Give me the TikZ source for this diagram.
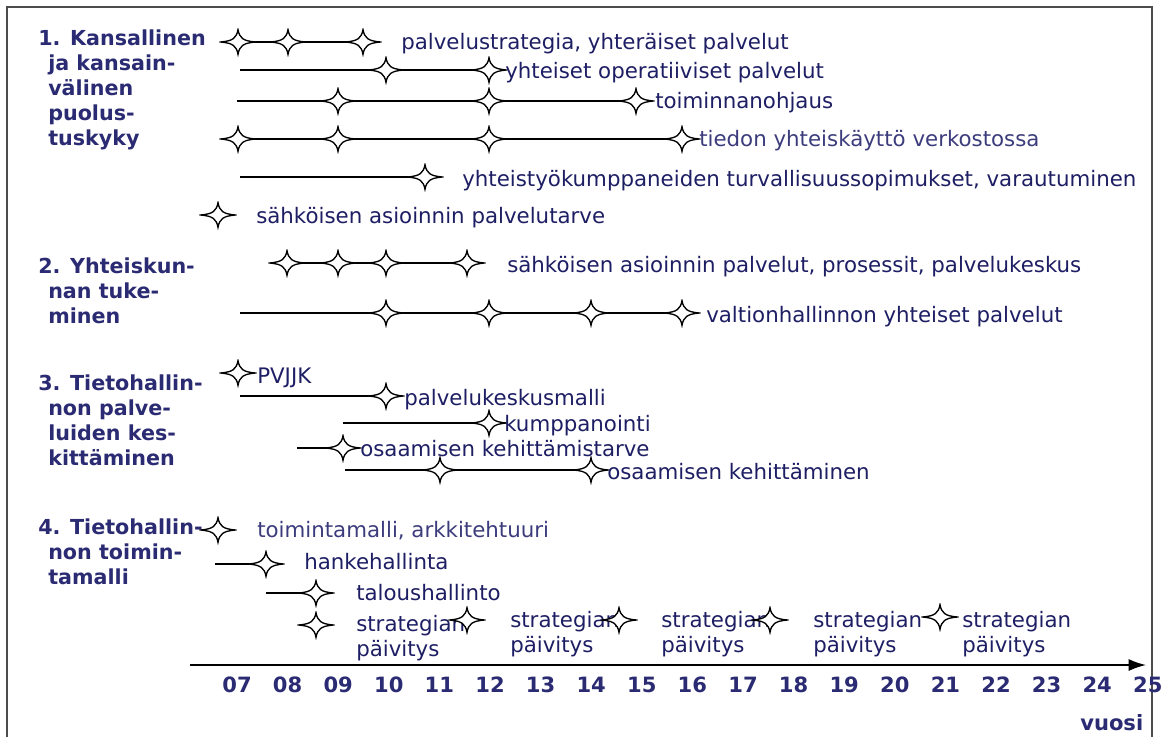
\documentclass[tikz,border=0pt]{standalone}
\usepackage{fontspec}
\setmainfont{DejaVu Sans}
\usetikzlibrary{arrows.meta,backgrounds}
\definecolor{navytext}{RGB}{30,30,100}
\definecolor{navyhead}{RGB}{43,43,115}
\definecolor{paletext}{RGB}{60,60,125}
\newcommand{\areaindent}{\hspace*{7.5pt}}
\tikzstyle{milestone}=[
        inner sep=0pt,
        minimum width=28pt,
        minimum height=21pt,
        path picture={
            \begin{scope}[shift={(path picture bounding box.center)}]
                \draw[line width=1pt,fill=white] (-13pt,0pt)
                    .. controls (-3.8pt,0.8pt) and (-1.1pt,3pt) .. (0pt,9.3pt)
                    .. controls (1.1pt,3pt) and (3.8pt,0.8pt) .. (13pt,0pt)
                    .. controls (3.8pt,-0.8pt) and (1.1pt,-3pt) .. (0pt,-9.3pt)
                    .. controls (-1.1pt,-3pt) and (-3.8pt,-0.8pt) .. cycle;
            \end{scope}
        }
]
\tikzstyle{bar}=[line width=0.8pt]
\tikzstyle{item}=[
        anchor=base west,
        inner sep=0pt,
        text=navytext,
        font=\fontsize{16pt}{19pt}\selectfont
]
\tikzstyle{itempale}=[item, text=paletext]
\tikzstyle{update}=[item, anchor=north west, align=left]
\tikzstyle{area}=[
        anchor=north west,
        inner sep=0pt,
        align=left,
        text=navyhead,
        font=\fontsize{15.5pt}{18.75pt}\selectfont\bfseries
]
\tikzstyle{yearlbl}=[
        anchor=base,
        inner sep=0pt,
        text=navyhead,
        font=\fontsize{15.8pt}{18.75pt}\selectfont\bfseries
]

\begin{document}
\begin{tikzpicture}[x=0.75pt,y=-0.75pt]
                    \useasboundingbox (0,0) rectangle (1164,736);
                    \draw[gray!60!black,line width=1.1pt] (7,745) -- (7,7) -- (1152,7) -- (1152,745);

                    \node[area] (area1) at (38,30) {1. Kansallinen\\\areaindent ja kansain-\\\areaindent välinen\\\areaindent puolus-\\\areaindent tuskyky};
                    \node[area] (area2) at (38,258) {2. Yhteiskun-\\\areaindent nan tuke-\\\areaindent minen};
                    \node[area] (area3) at (38,375) {3. Tietohallin-\\\areaindent non palve-\\\areaindent luiden kes-\\\areaindent kittäminen};
                    \node[area] (area4) at (38,519) {4. Tietohallin-\\\areaindent non toimin-\\\areaindent tamalli};

                    \foreach \x/\n in {238/a,288/b,363/c}
                        \node[milestone] (r1\n) at (\x,42) {};
                    \coordinate (r1end) at (380,42);
                    \node[item] (t1) at (401,49) {palvelustrategia, yhteräiset palvelut};

                    \foreach \x/\n in {386/a,489/b}
                        \node[milestone] (r2\n) at (\x,70) {};
                    \coordinate (r2start) at (240,70);
                    \node[item] (t2) at (505,78) {yhteiset operatiiviset palvelut};

                    \foreach \x/\n in {338/a,489/b,636/c}
                        \node[milestone] (r3\n) at (\x,101) {};
                    \coordinate (r3start) at (237,101);
                    \node[item] (t3) at (655,108) {toiminnanohjaus};

                    \foreach \x/\n in {238/a,338/b,489/c,682/d}
                        \node[milestone] (r4\n) at (\x,139) {};
                    \node[itempale] (t4) at (699,146) {tiedon yhteiskäyttö verkostossa};

                    \node[milestone] (r5a) at (425,177) {};
                    \coordinate (r5start) at (240,177);
                    \node[item] (t5) at (462,186) {yhteistyökumppaneiden turvallisuussopimukset, varautuminen};

                    \node[milestone] (r6a) at (218,215) {};
                    \node[item] (t6) at (256,223) {sähköisen asioinnin palvelutarve};

                    \foreach \x/\n in {287/a,338/b,386/c,467/d}
                        \node[milestone] (r7\n) at (\x,263) {};
                    \node[item] (t7) at (507,272) {sähköisen asioinnin palvelut, prosessit, palvelukeskus};

                    \foreach \x/\n in {386/a,489/b,591/c,682/d}
                        \node[milestone] (r8\n) at (\x,313) {};
                    \coordinate (r8start) at (240,313);
                    \node[item] (t8) at (706,322) {valtionhallinnon yhteiset palvelut};

                    \node[milestone] (r9a) at (238,373) {};
                    \node[item] (t9) at (257,383) {PVJJK};

                    \node[milestone] (r10a) at (386,396) {};
                    \coordinate (r10start) at (240,396);
                    \node[item] (t10) at (404,405) {palvelukeskusmalli};

                    \node[milestone] (r11a) at (489,423) {};
                    \coordinate (r11start) at (343,423);
                    \node[item] (t11) at (504,431) {kumppanointi};

                    \node[milestone] (r12a) at (343,448) {};
                    \coordinate (r12start) at (297,448);
                    \node[item] (t12) at (360,456) {osaamisen kehittämistarve};

                    \foreach \x/\n in {440/a,591/b}
                        \node[milestone] (r13\n) at (\x,470) {};
                    \coordinate (r13start) at (345,470);
                    \node[item] (t13) at (607,479) {osaamisen kehittäminen};

                    \node[milestone] (r14a) at (218,530) {};
                    \node[itempale] (t14) at (257,537) {toimintamalli, arkkitehtuuri};

                    \node[milestone] (r15a) at (266,564) {};
                    \coordinate (r15start) at (215,564);
                    \node[item] (t15) at (304,569) {hankehallinta};

                    \node[milestone] (r16a) at (316,593) {};
                    \coordinate (r16start) at (266,593);
                    \node[item] (t16) at (356,600) {taloushallinto};

                    \node[update] (s1) at (356,615) {strategian\\päivitys};
                    \foreach \x/\n in {510/2,661/3,813/4,962/5}
                        \node[update] (s\n) at (\x,611) {strategian\\päivitys};
                    \node[milestone] (r17a) at (316,625) {};
                    \foreach \x/\y/\n in {467/620/b,619/620/c,770/620/d,940/617/e}
                        \node[milestone] (r17\n) at (\x,\y) {};

                    \begin{pgfonlayer}{background}
                        \draw[bar] (r1a.center) -- (r1end);
                        \draw[bar] (r2start) -- (r2b.center);
                        \draw[bar] (r3start) -- (r3c.center);
                        \draw[bar] (r4a.center) -- (r4d.center);
                        \draw[bar] (r5start) -- (r5a.center);
                        \draw[bar] (r7a.center) -- (r7d.center);
                        \draw[bar] (r8start) -- (r8d.center);
                        \draw[bar] (r10start) -- (r10a.center);
                        \draw[bar] (r11start) -- (r11a.center);
                        \draw[bar] (r12start) -- (r12a.center);
                        \draw[bar] (r13start) -- (r13b.center);
                        \draw[bar] (r15start) -- (r15a.center);
                        \draw[bar] (r16start) -- (r16a.center);
                    \end{pgfonlayer}

                    \coordinate (axstart) at (190,665);
                    \coordinate (axend) at (1146,665);
                    \draw[line width=1.2pt,-{Latex[length=13pt,width=9pt]}] (axstart) -- (axend);

                    \foreach \lab [count=\i from 0] in {07,08,09,10,11,12,13,14,15,16,17,18,19,20,21,22,23,24,25} {
                        \node[yearlbl] (y\lab) at ({237+50.6*\i},692) {\lab};
                    }
                    \node[yearlbl,anchor=base west] (unit) at (1080,730) {vuosi};
                \end{tikzpicture}
\end{document}
